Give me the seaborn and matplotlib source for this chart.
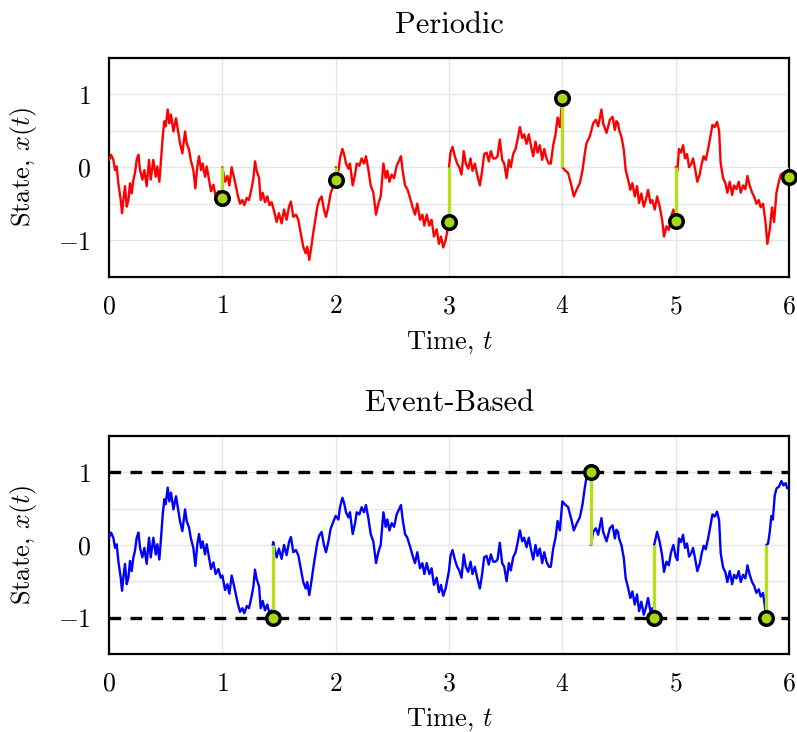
import numpy as np
import pandas as pd
import matplotlib
matplotlib.use("Agg")
import matplotlib.pyplot as plt
import seaborn as sns

# ---------------- data ----------------
# Periodic panel: one trace segment per sampling interval (reset to 0 at each sample)
per_t1 = [0.000,0.018,0.038,0.053,0.068,0.082,0.103,0.115,0.126,0.141,0.156,0.171,0.185,0.200,0.215,0.229,0.244,0.259,0.274,0.294,0.312,0.332,0.353,0.368,0.391,0.412,0.426,0.444,0.459,0.474,0.488,0.500,0.518,0.532,0.547,0.568,0.591,0.612,0.626,0.647,0.671,0.685,0.706,0.721,0.744,0.762,0.779,0.794,0.812,0.826,0.847,0.862,0.882,0.900,0.921,0.941,0.965,0.985,1.000]
per_x1 = [0.10,0.17,0.10,-0.04,0.01,-0.22,-0.45,-0.63,-0.45,-0.26,-0.54,-0.45,-0.22,-0.36,-0.17,-0.08,0.10,0.17,-0.04,-0.17,-0.04,-0.26,0.10,-0.17,0.10,-0.13,0.01,-0.20,0.10,0.42,0.63,0.56,0.79,0.60,0.72,0.49,0.67,0.47,0.33,0.19,0.49,0.33,0.24,0.10,-0.04,-0.29,0.01,0.15,-0.04,0.05,-0.13,0.01,-0.17,-0.33,-0.24,-0.40,-0.33,-0.45,-0.42]
per_t2 = [1.000,1.024,1.044,1.062,1.082,1.097,1.118,1.135,1.156,1.176,1.194,1.215,1.235,1.259,1.274,1.288,1.303,1.324,1.338,1.356,1.376,1.397,1.415,1.435,1.456,1.479,1.499,1.523,1.544,1.567,1.588,1.605,1.626,1.649,1.670,1.691,1.714,1.735,1.749,1.767,1.785,1.802,1.820,1.838,1.855,1.876,1.896,1.914,1.935,1.955,1.979,2.000]
per_x2 = [0.00,-0.20,-0.12,-0.25,0.00,-0.10,-0.25,-0.38,-0.50,-0.45,-0.52,-0.42,-0.45,-0.28,-0.15,0.08,-0.05,-0.15,-0.45,-0.35,-0.48,-0.40,-0.52,-0.48,-0.60,-0.75,-0.63,-0.77,-0.58,-0.72,-0.54,-0.47,-0.68,-0.65,-0.72,-0.90,-1.09,-1.18,-1.09,-1.27,-1.09,-0.90,-0.72,-0.54,-0.45,-0.40,-0.58,-0.68,-0.54,-0.36,-0.26,-0.18]
per_t3 = [2.000,2.024,2.038,2.059,2.074,2.091,2.112,2.126,2.150,2.171,2.185,2.209,2.229,2.250,2.267,2.288,2.309,2.332,2.356,2.376,2.397,2.421,2.441,2.456,2.474,2.494,2.515,2.538,2.562,2.576,2.591,2.612,2.632,2.656,2.679,2.700,2.720,2.744,2.765,2.782,2.803,2.826,2.846,2.867,2.891,2.911,2.929,2.949,2.970,2.988,3.000]
per_x3 = [0.00,-0.05,0.12,0.25,0.18,0.05,-0.02,0.05,-0.25,-0.10,0.05,0.02,0.12,0.05,0.15,-0.03,-0.25,-0.35,-0.65,-0.50,-0.40,0.05,-0.15,-0.05,-0.20,-0.10,-0.15,0.02,0.10,0.15,-0.05,-0.25,-0.30,-0.42,-0.55,-0.65,-0.50,-0.72,-0.65,-0.80,-0.65,-0.80,-0.72,-0.95,-0.85,-1.05,-0.95,-1.10,-1.00,-0.85,-0.75]
per_t4 = [3.000,3.013,3.031,3.051,3.072,3.090,3.110,3.130,3.148,3.169,3.190,3.207,3.228,3.248,3.272,3.292,3.310,3.331,3.351,3.369,3.390,3.410,3.428,3.448,3.469,3.487,3.508,3.528,3.545,3.566,3.587,3.605,3.625,3.646,3.663,3.684,3.704,3.722,3.743,3.763,3.781,3.801,3.822,3.840,3.860,3.881,3.898,3.919,3.940,3.958,3.978,4.000]
per_x4 = [0.00,0.20,0.28,0.15,0.05,0.00,-0.10,0.22,0.05,-0.02,0.12,-0.05,0.05,-0.10,-0.25,-0.05,0.18,0.20,0.08,0.22,0.12,0.12,0.15,0.38,0.10,0.05,-0.15,0.10,0.00,0.18,0.25,0.38,0.55,0.40,0.45,0.32,0.45,0.30,0.15,0.35,0.20,0.30,0.10,0.25,0.12,0.05,0.05,0.30,0.45,0.68,0.55,0.95]
per_t5 = [4.000,4.022,4.051,4.081,4.101,4.125,4.154,4.178,4.198,4.213,4.242,4.272,4.295,4.316,4.345,4.360,4.390,4.419,4.443,4.463,4.477,4.492,4.500,4.521,4.542,4.559,4.580,4.600,4.618,4.639,4.659,4.677,4.697,4.718,4.736,4.756,4.777,4.794,4.815,4.836,4.859,4.880,4.897,4.918,4.939,4.959,4.980,5.000]
per_x5 = [0.00,-0.04,-0.08,-0.26,-0.40,-0.31,-0.22,-0.04,0.19,0.33,0.42,0.60,0.65,0.56,0.79,0.60,0.47,0.65,0.69,0.51,0.63,0.60,0.51,0.42,0.24,-0.04,-0.17,-0.31,-0.22,-0.40,-0.26,-0.49,-0.36,-0.54,-0.45,-0.31,-0.49,-0.45,-0.58,-0.40,-0.54,-0.72,-0.95,-0.81,-0.86,-0.68,-0.58,-0.74]
per_t6 = [5.000,5.015,5.029,5.047,5.065,5.082,5.100,5.118,5.138,5.153,5.174,5.191,5.212,5.230,5.247,5.265,5.286,5.306,5.324,5.344,5.365,5.383,5.397,5.418,5.439,5.456,5.477,5.498,5.515,5.536,5.556,5.574,5.595,5.615,5.633,5.653,5.674,5.692,5.712,5.733,5.750,5.771,5.792,5.809,5.830,5.850,5.868,5.889,5.910,5.927,5.948,5.968,5.986,6.000]
per_x6 = [0.00,-0.05,0.25,0.20,0.30,0.12,0.18,0.00,0.05,0.12,-0.05,-0.20,-0.10,0.05,0.15,0.10,0.25,0.42,0.58,0.55,0.62,0.50,0.05,-0.15,-0.22,-0.35,-0.20,-0.38,-0.25,-0.30,-0.20,-0.35,-0.25,-0.30,-0.12,-0.25,-0.35,-0.40,-0.50,-0.45,-0.55,-0.50,-0.75,-1.05,-0.85,-0.55,-0.75,-0.35,-0.20,-0.10,-0.08,-0.10,-0.12,-0.13]
per_sample_t = [1, 2, 3, 4, 5, 6]
per_sample_x = [-0.42, -0.18, -0.75, 0.95, -0.74, -0.13]

# Event-based panel: segments between threshold crossings (reset to 0 at each event)
ev_t1 = per_t1 + [1.024,1.044,1.062,1.082,1.097,1.118,1.135,1.156,1.176,1.194,1.215,1.235,1.259,1.274,1.288,1.303,1.324,1.338,1.356,1.376,1.397,1.415,1.435,1.444]
ev_x1 = per_x1 + [-0.62,-0.54,-0.67,-0.42,-0.52,-0.67,-0.80,-0.92,-0.87,-0.94,-0.84,-0.87,-0.70,-0.57,-0.34,-0.47,-0.57,-0.87,-0.77,-0.90,-0.82,-0.94,-0.90,-1.00]
ev_t2 = ([1.444,1.449,1.456,1.479,1.499,1.523,1.544,1.567,1.588,1.605,1.626,1.649,1.670,1.691,1.714,1.735,1.749,1.767,1.785,1.802,1.820,1.838,1.855,1.876,1.896,1.914,1.935,1.955,1.979,2.000]
         + per_t3[1:] + per_t4[1:]
         + [4.022,4.051,4.081,4.101,4.125,4.154,4.178,4.198,4.213,4.251])
ev_x2 = ([0.00,0.04,-0.02,-0.17,-0.05,-0.19,0.00,-0.14,0.04,0.11,-0.10,-0.07,-0.14,-0.32,-0.51,-0.60,-0.51,-0.69,-0.51,-0.32,-0.14,0.04,0.13,0.18,0.00,-0.10,0.04,0.22,0.32,0.40]
         + [0.35,0.52,0.65,0.58,0.45,0.38,0.45,0.15,0.30,0.45,0.42,0.52,0.45,0.55,0.37,0.15,0.05,-0.25,-0.10,0.00,0.45,0.25,0.35,0.20,0.30,0.25,0.42,0.50,0.55,0.35,0.15,0.10,-0.02,-0.15,-0.25,-0.10,-0.32,-0.25,-0.40,-0.25,-0.40,-0.32,-0.55,-0.45,-0.65,-0.55,-0.70,-0.60,-0.45,-0.35]
         + [-0.15,-0.07,-0.20,-0.30,-0.35,-0.45,-0.13,-0.30,-0.37,-0.23,-0.40,-0.30,-0.45,-0.60,-0.40,-0.17,-0.15,-0.27,-0.13,-0.23,-0.23,-0.20,0.03,-0.25,-0.30,-0.50,-0.25,-0.35,-0.17,-0.10,0.03,0.20,0.05,0.10,-0.03,0.10,-0.05,-0.20,0.00,-0.15,-0.05,-0.25,-0.10,-0.23,-0.30,-0.30,-0.05,0.10,0.33,0.20,0.60]
         + [0.56,0.52,0.34,0.20,0.29,0.38,0.56,0.79,0.93,1.00])
ev_t3 = [4.251,4.272,4.295,4.316,4.345,4.360,4.390,4.419,4.443,4.463,4.477,4.492,4.500,4.521,4.542,4.559,4.580,4.600,4.618,4.639,4.659,4.677,4.697,4.718,4.736,4.756,4.777,4.794,4.810]
ev_x3 = [0.00,0.18,0.23,0.14,0.37,0.18,0.05,0.23,0.27,0.09,0.21,0.18,0.09,0.00,-0.18,-0.46,-0.59,-0.73,-0.64,-0.82,-0.68,-0.91,-0.78,-0.96,-0.87,-0.73,-0.91,-0.87,-1.00]
ev_t4 = [4.810,4.836,4.859,4.880,4.897,4.918,4.939,4.959,4.980,5.000,5.015,5.029,5.047,5.065,5.082,5.100,5.118,5.138,5.153,5.174,5.191,5.212,5.230,5.247,5.265,5.286,5.306,5.324,5.344,5.365,5.383,5.397,5.418,5.439,5.456,5.477,5.498,5.515,5.536,5.556,5.574,5.595,5.615,5.633,5.653,5.674,5.692,5.712,5.733,5.750,5.771,5.792,5.800]
ev_x4 = [0.00,0.18,0.04,-0.14,-0.37,-0.23,-0.28,-0.10,0.00,-0.16,-0.21,0.09,0.04,0.14,-0.04,0.02,-0.16,-0.11,-0.04,-0.21,-0.36,-0.26,-0.11,-0.01,-0.06,0.09,0.26,0.42,0.39,0.46,0.34,-0.11,-0.31,-0.38,-0.51,-0.36,-0.54,-0.41,-0.46,-0.36,-0.51,-0.41,-0.46,-0.28,-0.41,-0.51,-0.56,-0.66,-0.61,-0.71,-0.66,-0.91,-1.00]
ev_t5 = [5.800,5.815,5.830,5.844,5.857,5.874,5.890,5.910,5.933,5.950,5.970,5.985,6.000]
ev_x5 = [0.00,0.02,0.18,0.40,0.35,0.68,0.78,0.80,0.88,0.82,0.85,0.78,0.77]
ev_event_t = [1.444, 4.251, 4.810, 5.800]
ev_event_x = [-1.0, 1.0, -1.0, -1.0]
thresholds = [-1.0, 1.0]

titles = ["Periodic", "Event-Based"]
x_ticks = [0, 1, 2, 3, 4, 5, 6]
y_ticks = [-1.5, -1.0, -0.5, 0.0, 0.5, 1.0, 1.5]
y_ticklabels = ["", "$-1$", "", "$0$", "", "$1$", ""]

# ---------------- style ----------------
sns.set_theme(style="white")
plt.rcParams.update({
    "font.family": "serif",
    "font.serif": ["cmr10", "DejaVu Serif"],
    "mathtext.fontset": "cm",
    "axes.formatter.use_mathtext": True,
    "axes.unicode_minus": True,
    "text.color": "black",
    "axes.labelcolor": "black",
    "xtick.color": "black",
    "ytick.color": "black",
})

GREEN_LINE = "#b3e01e"
GREEN_FILL = "#a6d814"

def build_df(ts, xs):
    frames = []
    for i, (t, x) in enumerate(zip(ts, xs)):
        frames.append(pd.DataFrame({"t": t, "x": x, "seg": i}))
    return pd.concat(frames, ignore_index=True)

fig = plt.figure(figsize=(7.97, 7.32), dpi=100)
ax1 = fig.add_axes([0.1368, 0.622, 0.8532, 0.2992])
ax2 = fig.add_axes([0.1368, 0.1066, 0.8532, 0.2978])

df_per = build_df([per_t1, per_t2, per_t3, per_t4, per_t5, per_t6],
                  [per_x1, per_x2, per_x3, per_x4, per_x5, per_x6])
df_ev = build_df([ev_t1, ev_t2, ev_t3, ev_t4, ev_t5],
                 [ev_x1, ev_x2, ev_x3, ev_x4, ev_x5])

sns.lineplot(data=df_per, x="t", y="x", units="seg", estimator=None, sort=False,
             color="#ff0000", lw=1.7, ax=ax1, zorder=3)
sns.lineplot(data=df_ev, x="t", y="x", units="seg", estimator=None, sort=False,
             color="#0000ff", lw=1.7, ax=ax2, zorder=3)

for ax in (ax1, ax2):
    ax.set_xlim(0, 6)
    ax.set_ylim(-1.5, 1.5)
    ax.set_xticks(x_ticks)
    ax.set_xticklabels([f"${v}$" for v in x_ticks])
    ax.set_yticks(y_ticks)
    ax.set_yticklabels(y_ticklabels)
    ax.grid(True, color="#e6e6e6", lw=1.0, zorder=0)
    ax.set_axisbelow(True)
    ax.tick_params(axis="both", which="major", direction="out", length=5,
                   width=1.0, color="#555555", labelcolor="black", labelsize=18.5, pad=8)
    for s in ax.spines.values():
        s.set_color("black")
        s.set_linewidth(1.6)
    ax.set_xlabel(r"Time, $t$", fontsize=19, labelpad=8)
    ax.set_ylabel(r"State, $x(t)$", fontsize=19, labelpad=14)

ax1.set_title(titles[0], fontsize=22, pad=18)
ax2.set_title(titles[1], fontsize=22, pad=18)

for y in thresholds:
    ax2.axhline(y, color="black", lw=2.4, ls=(0, (3.5, 2.8)), zorder=2)

ax1.vlines(per_sample_t, per_sample_x, [0] * len(per_sample_t), color=GREEN_LINE, lw=2.4, zorder=4)
ax2.vlines(ev_event_t, ev_event_x, [0] * len(ev_event_t), color=GREEN_LINE, lw=2.4, zorder=4)

sns.scatterplot(x=per_sample_t, y=per_sample_x, ax=ax1, s=95, color=GREEN_FILL,
                edgecolor="black", linewidth=2.5, zorder=5, clip_on=False, legend=False)
sns.scatterplot(x=ev_event_t, y=ev_event_x, ax=ax2, s=95, color=GREEN_FILL,
                edgecolor="black", linewidth=2.5, zorder=5, clip_on=False, legend=False)

fig.savefig("out.png", dpi=100)
